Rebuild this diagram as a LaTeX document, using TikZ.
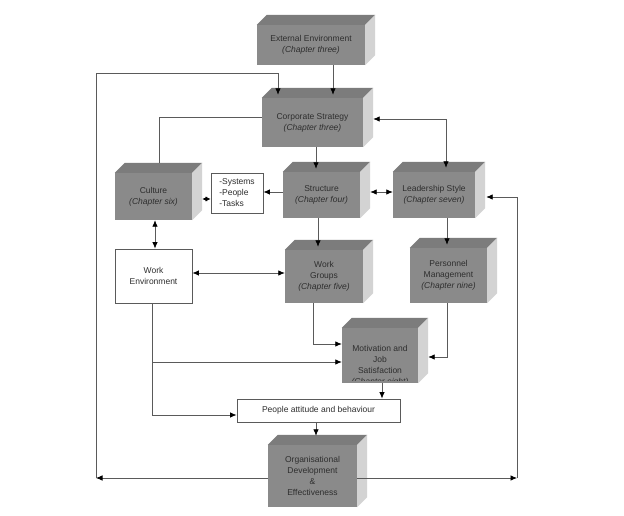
\documentclass[tikz,border=0pt]{standalone}
\usepackage{fontspec}
\setmainfont{Liberation Sans}
\usetikzlibrary{arrows.meta,calc}
\definecolor{frontc}{HTML}{8A8A8A}
\definecolor{topc}{HTML}{7C7C7C}
\definecolor{sidec}{HTML}{D3D3D3}
\definecolor{linec}{HTML}{5A5A5A}
\definecolor{txtc}{HTML}{2E2E2E}
\newcommand\cubefaces[1]{%
 \fill[topc] (#1.north west) -- ([xshift=10pt,yshift=10pt]#1.north west) -- ([xshift=10pt,yshift=10pt]#1.north east) -- (#1.north east) -- cycle;
 \fill[sidec] (#1.north east) -- ([xshift=10pt,yshift=10pt]#1.north east) -- ([xshift=10pt,yshift=10pt]#1.south east) -- (#1.south east) -- cycle;}
\newcommand\chap[1]{{\itshape #1}}
\begin{document}
\begin{tikzpicture}[x=1pt,y=-1pt,
 txt/.style={text=txtc, font=\fontsize{8.5}{11}\selectfont, align=center},
 cube/.style={txt, fill=frontc, inner sep=0pt},
 wbox/.style={txt, draw=linec, line width=0.8pt, fill=white, inner sep=0pt},
 conn/.style={draw=linec, line width=0.8pt},
 arr/.style={conn, -{Latex[length=6.5pt,width=5.5pt,color=black]}},
 darr/.style={conn, {Latex[length=6.5pt,width=5.5pt,color=black]}-{Latex[length=6.5pt,width=5.5pt,color=black]}},
 sdarr/.style={conn, {Latex[length=5pt,width=5pt,color=black]}-{Latex[length=5pt,width=5pt,color=black]}}]
\useasboundingbox[fill=white] (0,0) rectangle (624,516);

\node[cube, minimum width=108pt, minimum height=40pt] (ext) at (311,45) {External Environment\\\chap{(Chapter three)}};
\node[cube, minimum width=101pt, minimum height=49pt] (corp) at (312.5,122.5) {Corporate Strategy\\\chap{(Chapter three)}};
\node[cube, minimum width=77pt, minimum height=47pt] (cult) at (153.5,196.5) {Culture\\\chap{(Chapter six)}};
\node[wbox, minimum width=52pt, minimum height=40pt, align=left] (sys) at (237,193) {-Systems\\-People\\-Tasks};
\node[cube, minimum width=77pt, minimum height=46pt] (str) at (321.5,195) {Structure\\\chap{(Chapter four)}};
\node[cube, minimum width=82pt, minimum height=46pt] (lead) at (434,195) {Leadership Style\\\chap{(Chapter seven)}};
\node[wbox, minimum width=77pt, minimum height=54pt] (wenv) at (153.5,276) {Work\\Environment};
\node[cube, minimum width=78pt, minimum height=53pt] (wgr) at (324,276.5) {Work\\Groups\\\chap{(Chapter five)}};
\node[cube, minimum width=77pt, minimum height=55pt] (pers) at (448.5,275.5) {Personnel\\Management\\\chap{(Chapter nine)}};
\node[cube, minimum width=76pt, minimum height=55pt] (mot) at (380,355.5) {};
\node[wbox, minimum width=163pt, minimum height=23pt] (ppl) at (318.5,410.5) {People attitude and behaviour};
\node[cube, minimum width=89pt, minimum height=62pt] (org) at (312.5,476) {Organisational\\Development\\\&\\Effectiveness};

\cubefaces{ext}\cubefaces{corp}\cubefaces{cult}\cubefaces{str}\cubefaces{lead}
\cubefaces{wgr}\cubefaces{pers}\cubefaces{mot}\cubefaces{org}

\begin{scope}
\clip ([yshift=3pt]mot.south west) rectangle (mot.north east);
\node[txt] (mottxt) at ([yshift=-10pt]mot.center) {Motivation and\\Job\\Satisfaction\\\chap{(Chapter eight)}};
\end{scope}

% coordinates
\coordinate (c1) at ([xshift=22pt]ext.south);
\coordinate (corpT) at ([yshift=3pt]corp.north);
\coordinate (LB) at (96,478);
\coordinate (LT) at (96,73);
\coordinate (LE) at ([xshift=-34.5pt]corpT);
\coordinate (RB) at (517,478);
\coordinate (leadR) at ([xshift=11pt,yshift=-2pt]lead.east);
\coordinate (corpW) at ([yshift=5.5pt]corp.west);
\coordinate (cultT) at ([xshift=5.5pt,yshift=10pt]cult.north);
\coordinate (corpE) at ([xshift=10pt,yshift=3.5pt]corp.east);
\coordinate (leadT) at ([xshift=12pt,yshift=4pt]lead.north);
\coordinate (corpS) at ([xshift=3.5pt]corp.south);
\coordinate (strT) at ([yshift=3pt]str.north);
\coordinate (strE) at ([xshift=10pt,yshift=3pt]str.east);
\coordinate (strW) at ([yshift=3pt]str.west);
\coordinate (cultE) at ([xshift=10pt,yshift=-2.5pt]cult.east);
\coordinate (cultS) at ([xshift=1.5pt]cult.south);
\coordinate (wenvE) at ([yshift=3pt]wenv.east);
\coordinate (strS) at ([xshift=-3.5pt]str.south);
\coordinate (wgrT) at ([yshift=3pt]wgr.north);
\coordinate (leadS) at ([xshift=13pt]lead.south);
\coordinate (persT) at ([yshift=3pt]pers.north);
\coordinate (wgrS) at ([xshift=-11pt]wgr.south);
\coordinate (motW1) at ([yshift=11.5pt]mot.west);
\coordinate (persS) at ([xshift=-1.5pt]pers.south);
\coordinate (motE) at ([xshift=10pt,yshift=-1.5pt]mot.east);
\coordinate (wenvS) at ([xshift=-1.5pt]wenv.south);
\coordinate (pplW) at ([yshift=-4.5pt]ppl.west);
\coordinate (motW2) at ([yshift=-6.5pt]mot.west);
\coordinate (motS) at ([xshift=2pt]mot.south);
\coordinate (pplS) at ([xshift=-2.5pt]ppl.south);
\coordinate (orgT) at ([yshift=9pt]org.north);

% connectors
\draw[arr] (c1) -- (c1 |- corpT);
\draw[arr] (org.west |- LB) -- (LB);
\draw[arr] (LB) -- (LT) -| (LE);
\draw[arr] (org.east |- RB) -- (RB);
\draw[arr] (RB) |- (leadR);
\draw[conn] (corpW) -| (cultT);
\draw[darr] (corpE) -| (leadT);
\draw[arr] (corpS) -- (corpS |- strT);
\draw[darr] (strE) -- (strE -| lead.west);
\draw[arr] (strW) -- (strW -| sys.east);
\draw[sdarr] (cultE) -- (cultE -| sys.west);
\draw[darr] (cultS) -- (cultS |- wenv.north);
\draw[darr] (wenvE) -- (wenvE -| wgr.west);
\draw[arr] (strS) -- (strS |- wgrT);
\draw[arr] (leadS) -- (leadS |- persT);
\draw[arr] (wgrS) |- (motW1);
\draw[arr] (persS) |- (motE);
\draw[arr] (wenvS) |- (pplW);
\draw[arr] (wenvS |- motW2) -- (motW2);
\draw[arr] (motS) -- (motS |- ppl.north);
\draw[arr] (pplS) -- (pplS |- orgT);
\end{tikzpicture}
\end{document}
